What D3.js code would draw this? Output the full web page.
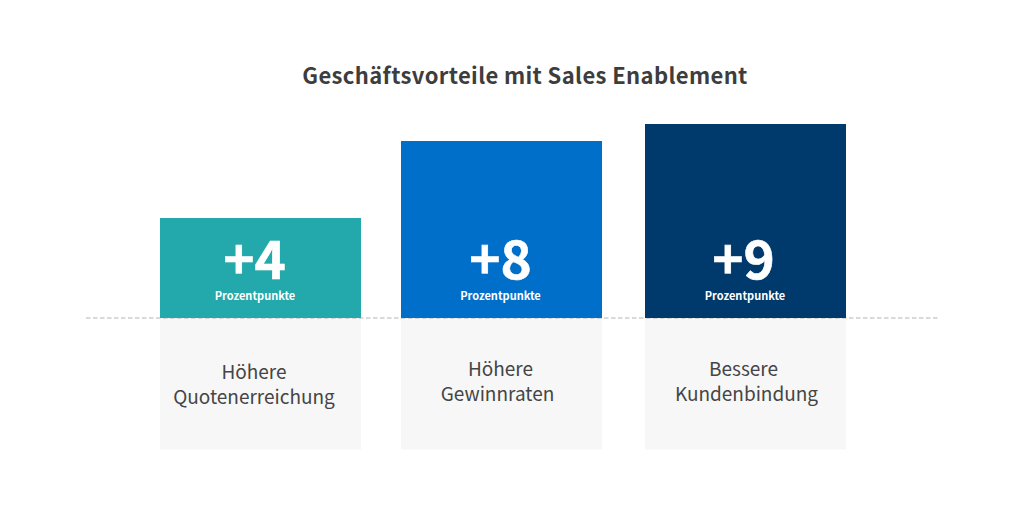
<!DOCTYPE html>
<html>
<head>
<meta charset="utf-8">
<script src="https://cdn.jsdelivr.net/npm/d3@7"></script>
<style>
  body { margin: 0; background: #fff; }
  /* the Latin glyphs of Noto Sans CJK are the closest match to the reference font */
  text { font-family: "Noto Sans CJK SC", "Noto Sans", sans-serif; }
</style>
</head>
<body>
<svg id="chart" width="1024" height="512"></svg>
<script>
const title = "Geschäftsvorteile mit Sales Enablement";
const categories = ["Höhere Quotenerreichung", "Höhere Gewinnraten", "Bessere Kundenbindung"];
const labelLines = [["Höhere", "Quotenerreichung"], ["Höhere", "Gewinnraten"], ["Bessere", "Kundenbindung"]];
const values = [4, 8, 9];
const valueLabels = ["+4", "+8", "+9"];
const unit = "Prozentpunkte";
const colors = ["#23a8ab", "#006fca", "#003a6c"];

const svg = d3.select("#chart");
const baseline = 318;
const barWidth = 201;

// columns are not evenly spaced in the picture
const x = d3.scaleOrdinal().domain(categories).range([160, 401, 645]);
// bars are not strictly proportional either, heights come from this scale
const y = d3.scaleLinear().domain([0, 4, 8, 9]).range([baseline, 218, 141, 124]);

svg.append("text").attr("x", 525).attr("y", 83.5).attr("text-anchor", "middle")
    .attr("font-size", 22).attr("font-weight", 700).attr("letter-spacing", 0.37)
    .attr("fill", "#3d3d3d").text(title);

// Grey label boxes under the baseline
svg.selectAll(".box").data(categories).enter().append("rect")
    .attr("class", "box")
    .attr("x", d => x(d)).attr("y", baseline)
    .attr("width", barWidth).attr("height", 131.5)
    .attr("fill", "#f7f7f7");

svg.append("line").attr("x1", 86).attr("x2", 938).attr("y1", baseline).attr("y2", baseline)
    .attr("stroke", "#b4b4b4").attr("stroke-width", 1).attr("stroke-dasharray", "4.5 2.5");

// Bars
svg.selectAll(".bar").data(values).enter().append("rect")
    .attr("class", "bar")
    .attr("x", (d, i) => x(categories[i])).attr("y", d => y(d))
    .attr("width", barWidth).attr("height", d => baseline - y(d))
    .attr("fill", (d, i) => colors[i]);

// text in the picture sits slightly off the bar centres
const valueShift = [-6, -1, -2];
const unitShift = [-5.5, -1, -0.5];
const lineShift = [[-6.5, -6.5], [-1, -4], [-2, 1]];

svg.selectAll(".value").data(valueLabels).enter().append("text")
    .attr("class", "value")
    .attr("x", (d, i) => x(categories[i]) + barWidth / 2 + valueShift[i]).attr("y", 279)
    .attr("text-anchor", "middle").attr("font-size", 53).attr("font-weight", 700)
    .attr("fill", "#fff").attr("stroke", "#fff").attr("stroke-width", 0.6).text(d => d);

svg.selectAll(".unit").data(categories).enter().append("text")
    .attr("class", "unit")
    .attr("x", (d, i) => x(d) + barWidth / 2 + unitShift[i]).attr("y", 300)
    .attr("text-anchor", "middle").attr("font-size", 11).attr("font-weight", 700)
    .attr("fill", "#fff").text(unit);

// Category labels
const firstLineY = [378.5, 376, 376];
labelLines.forEach((lines, i) => {
    lines.forEach((line, j) => {
        svg.append("text")
            .attr("x", x(categories[i]) + barWidth / 2 + lineShift[i][j])
            .attr("y", firstLineY[i] + j * 25)
            .attr("text-anchor", "middle").attr("font-size", 19)
            .attr("fill", "#454545").text(line);
    });
});
</script>
</body>
</html>
